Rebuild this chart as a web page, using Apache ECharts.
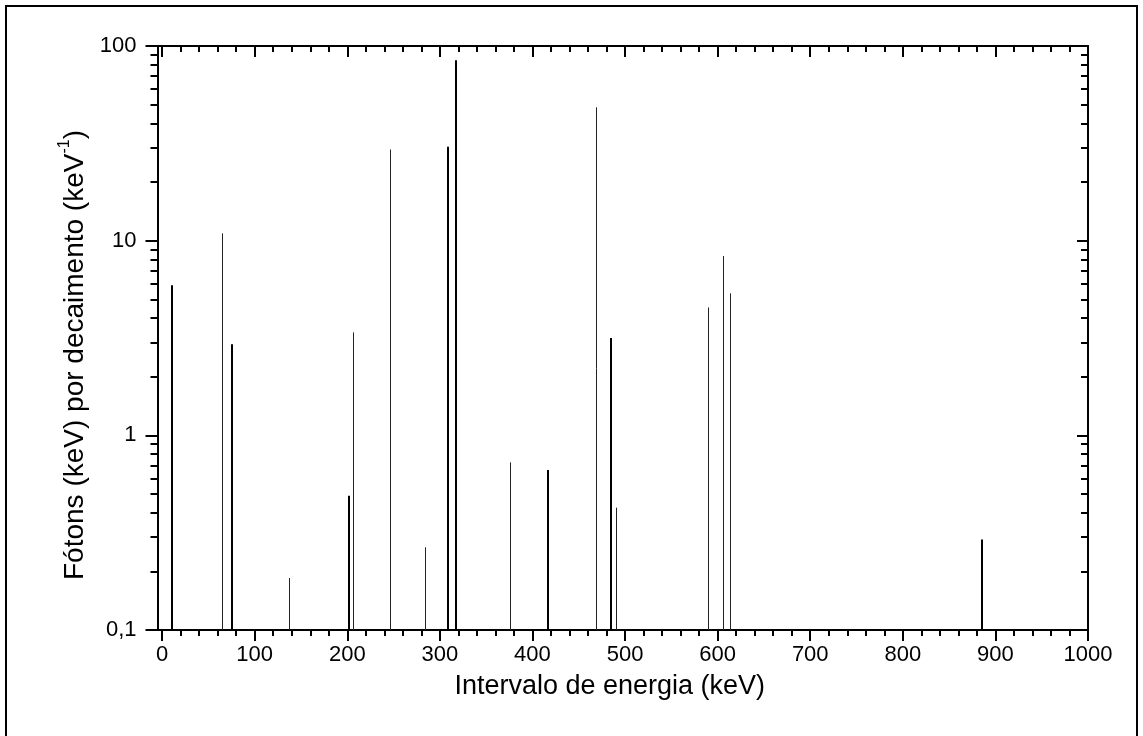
<!DOCTYPE html>
<html>
<head>
<meta charset="utf-8">
<script src="https://cdn.jsdelivr.net/npm/echarts@6/dist/echarts.min.js"></script>
<style>
html,body{margin:0;padding:0;background:#fff;}
#chart{width:1143px;height:736px;}
</style>
</head>
<body>
<div id="chart"></div>
<script>
// Emission lines (energy in keV, photons per decay)
const thickEnergy    = [10.8, 75.6, 202.2, 309.1, 317.0, 417.0, 485.1, 885.2];
const thickIntensity = [5.9, 2.94, 0.49, 30.4, 84.6, 0.664, 3.16, 0.292];
const thinEnergy     = [64.8, 136.7, 205.8, 245.7, 284.3, 375.3, 468.9, 490.1, 589.4, 605.6, 613.2];
const thinIntensity  = [10.9, 0.185, 3.38, 29.4, 0.266, 0.726, 48.4, 0.425, 4.54, 8.34, 5.36];

// Tick values
const xMajorTicks = [0, 100, 200, 300, 400, 500, 600, 700, 800, 900, 1000];
const xMinorTicks = [20, 40, 60, 80, 120, 140, 160, 180, 220, 240, 260, 280,
  320, 340, 360, 380, 420, 440, 460, 480, 520, 540, 560, 580, 620, 640, 660, 680,
  720, 740, 760, 780, 820, 840, 860, 880, 920, 940, 960, 980];
const yMajorTicks = [0.1, 1, 10, 100];
const yMinorTicks = [0.2, 0.3, 0.4, 0.5, 0.6, 0.7, 0.8, 0.9,
  2, 3, 4, 5, 6, 7, 8, 9, 20, 30, 40, 50, 60, 70, 80, 90];

const xTitle = 'Intervalo de energia (keV)';
const yTitle = '{m|Fótons (keV) por decaimento (keV}{sup|-1}{m|)}';

const FONT = '"Liberation Sans", Arial, sans-serif';
const X_MIN = -5, X_MAX = 1000, Y_MIN = 0.1, Y_MAX = 100;

function pairs(xs, ys) { return xs.map((x, i) => [x, ys[i]]); }

function lineRenderer(width, color) {
  return function (params, api) {
    const x = api.value(0);
    const p0 = api.coord([x, Y_MIN]);
    const p1 = api.coord([x, api.value(1)]);
    let px = Math.round(p0[0]) + (width % 2 ? 0.5 : 0);
    return {
      type: 'line',
      shape: { x1: px, y1: p0[1], x2: px, y2: p1[1] },
      style: { stroke: color, lineWidth: width }
    };
  };
}

const axisLineStyle = { color: '#000', width: 2 };
const tickStyle = { color: '#000', width: 2 };

function xAxisDef(position, ticks, len, inside, withLabels, withLine) {
  return {
    type: 'value', position: position, min: X_MIN, max: X_MAX,
    axisLine: { show: withLine, onZero: false, lineStyle: axisLineStyle },
    axisTick: { show: true, customValues: ticks, length: len, inside: inside, lineStyle: tickStyle },
    axisLabel: withLabels ? {
      show: true, customValues: ticks, color: '#000', fontSize: 22, fontFamily: FONT, margin: 14,
      formatter: function (v) { return String(Math.round(v)); }
    } : { show: false },
    splitLine: { show: false }, minorTick: { show: false }
  };
}
function yAxisDef(position, ticks, len, inside, withLabels, withLine) {
  return {
    type: 'log', logBase: 10, position: position, min: Y_MIN, max: Y_MAX,
    axisLine: { show: withLine, onZero: false, lineStyle: axisLineStyle },
    axisTick: { show: true, customValues: ticks, length: len, inside: inside, lineStyle: tickStyle },
    axisLabel: withLabels ? {
      show: true, customValues: ticks, color: '#000', fontSize: 22, fontFamily: FONT, margin: 21,
      formatter: function (v) { return v < 1 ? v.toFixed(1).replace('.', ',') : String(Math.round(v)); }
    } : { show: false },
    splitLine: { show: false }, minorTick: { show: false }
  };
}

const xAxes = [
  xAxisDef('bottom', xMajorTicks, 11, false, true, true),
  xAxisDef('bottom', xMinorTicks, 6, false, false, false),
  xAxisDef('top', xMajorTicks, 11, true, false, true),
  xAxisDef('top', xMinorTicks, 6, true, false, false)
];
Object.assign(xAxes[0], {
  name: xTitle, nameLocation: 'middle', nameGap: 43,
  nameTextStyle: { color: '#000', fontSize: 27, fontFamily: FONT, padding: [0, 26, 0, 0] }
});
const yAxes = [
  yAxisDef('left', yMajorTicks, 12, false, true, true),
  yAxisDef('left', yMinorTicks, 7, false, false, false),
  yAxisDef('right', yMajorTicks, 11, true, false, true),
  yAxisDef('right', yMinorTicks, 7, true, false, false)
];
Object.assign(yAxes[0], {
  name: yTitle, nameLocation: 'middle', nameGap: 60, nameRotate: 90,
  nameTextStyle: {
    color: '#000', fontSize: 28, fontFamily: FONT, padding: [0, 34, 0, 0],
    rich: {
      m: { fontSize: 28, fontFamily: FONT, color: '#000', lineHeight: 32, verticalAlign: 'bottom' },
      sup: { fontSize: 16, fontFamily: FONT, color: '#000', lineHeight: 32, verticalAlign: 'top', padding: [0, 0, 12, 0] }
    }
  }
});

const chart = echarts.init(document.getElementById('chart'), null, { renderer: 'canvas' });
chart.setOption({
  animation: false,
  backgroundColor: '#fff',
  grid: { left: 157.5, right: 55, top: 46, bottom: 106, containLabel: false },
  xAxis: xAxes,
  yAxis: yAxes,
  graphic: [{
    type: 'rect', silent: true,
    shape: { x: 6, y: 6, width: 1131, height: 800 },
    style: { fill: 'none', stroke: '#000', lineWidth: 2 }
  }],
  series: [
    { type: 'custom', name: 'thick', xAxisIndex: 0, yAxisIndex: 0,
      renderItem: lineRenderer(2, '#000'), data: pairs(thickEnergy, thickIntensity), encode: { x: 0, y: 1 } },
    { type: 'custom', name: 'thin', xAxisIndex: 0, yAxisIndex: 0,
      renderItem: lineRenderer(1, '#222'), data: pairs(thinEnergy, thinIntensity), encode: { x: 0, y: 1 } }
  ]
});
</script>
</body>
</html>
